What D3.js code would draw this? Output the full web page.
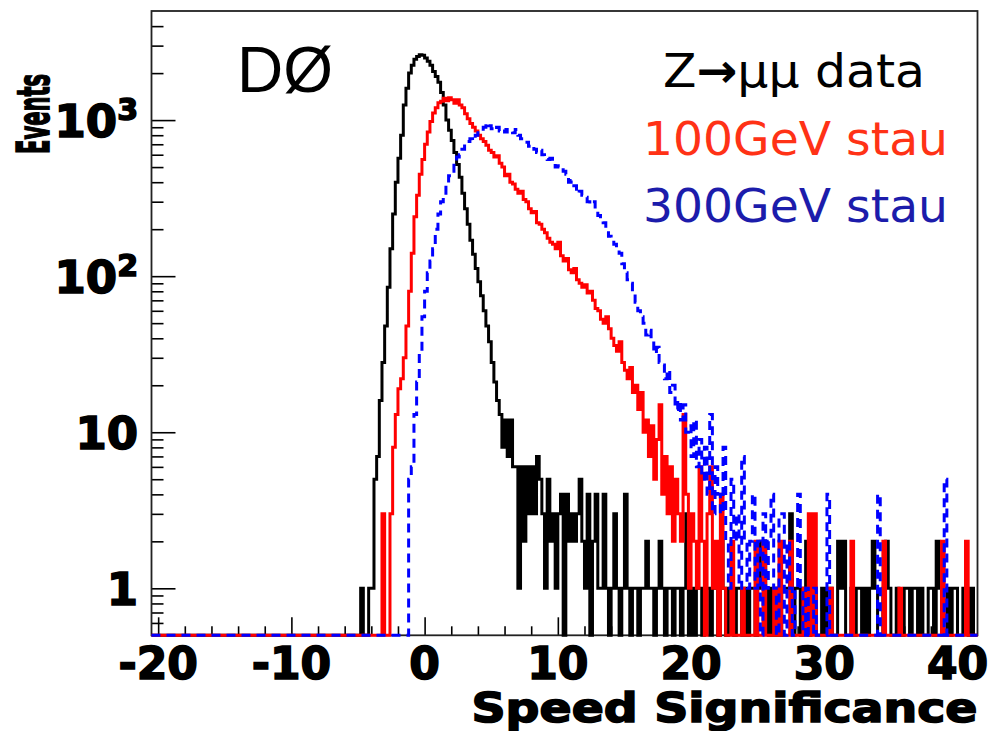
<!DOCTYPE html>
<html>
<head>
<meta charset="utf-8">
<script src="https://cdn.jsdelivr.net/npm/d3@7"></script>
<style>
  body { margin: 0; background: #fff; }
  svg { display: block; }
</style>
</head>
<body>
<svg id="chart" width="1005" height="731"></svg>
<script>
// histogram binning and axis ranges
const binWidth = 0.2
const xDomain = [-20.5, 41.5]
const yDomain = [0.5, 5000]
const xMajorTicks = [-20, -10, 0, 10, 20, 30, 40]
const yMajorTicks = [1, 10, 100, 1000]
const yTickLabels = [['1', ''], ['10', ''], ['10', '2'], ['10', '3']]

// Z->mumu data, bins of 0.2 starting at -4.8
const dataStart = -4.8
const dataCounts = [
  1, 0, 0, 1, 1, 5, 7, 16, 28, 48,
  85, 150, 250, 400, 570, 800, 1250, 1600, 2000, 2250,
  2450, 2560, 2620, 2600, 2500, 2380, 2250, 2050, 1900, 1750,
  1500, 1250, 1000, 860, 740, 620, 520, 430, 340, 270,
  215, 170, 138, 112, 92, 75, 60, 48, 38, 28,
  21, 16, 13, 8, 12, 7, 12, 6, 6, 1,
  6, 2, 6, 3, 6, 3, 7, 5, 3, 1,
  5, 2, 3, 1, 3, 4, 0, 4, 2, 3,
  2, 3, 5, 2, 1, 4, 0, 2, 4, 1,
  1, 4, 1, 0, 1, 3, 1, 0, 1, 4,
  1, 0, 1, 1, 0, 1, 1, 2, 1, 1,
  0, 1, 2, 1, 0, 1, 1, 0, 1, 1,
  0, 1, 3, 0, 1, 0, 1, 1, 0, 1,
  1, 0, 1, 1, 0, 2, 1, 0, 1, 1,
  0, 1, 1, 0, 1, 0, 1, 1, 0, 1,
  2, 2, 1, 0, 1, 0, 1, 0, 1, 1,
  1, 3, 0, 1, 1, 0, 1, 2, 0, 1,
  1, 0, 0, 1, 0, 1, 1, 0, 0, 2,
  1, 2, 0, 0, 1, 0, 1, 1, 0, 1,
  0, 1, 2, 1, 0, 0, 1, 2, 1, 0,
  0, 1, 0, 0, 1, 1, 0, 1, 1, 0,
  1, 0, 0, 1, 1, 0, 2, 1, 0, 0,
  1, 0, 1, 1, 0, 0, 1, 1, 0, 1
]

// 100 GeV stau, bins of 0.2 starting at -3.2
const stau100Start = -3.2
const stau100Counts = [
  3, 0, 0, 3, 8, 13, 19, 22, 30, 48,
  80, 140, 240, 330, 450, 560, 700, 840, 980, 1110,
  1200, 1290, 1320, 1380, 1330, 1390, 1350, 1280, 1350, 1250,
  1200, 1100, 1020, 950, 900, 850, 800, 760, 730, 690,
  640, 620, 580, 590, 530, 500, 440, 450, 400, 390,
  360, 340, 350, 310, 300, 270, 255, 260, 220, 215,
  200, 190, 175, 165, 160, 150, 165, 135, 125, 130,
  110, 105, 112, 95, 90, 85, 88, 78, 80, 70,
  62, 60, 53, 50, 55, 46, 40, 36, 33, 38,
  28, 25, 22, 26, 18, 20, 14, 18, 10, 12,
  7, 11, 5, 9, 15, 4, 7, 3, 6, 2,
  5, 3, 2, 13, 4, 1, 3, 2, 1, 6,
  2, 0, 3, 6, 1, 2, 0, 4, 1, 0,
  0, 2, 0, 0, 0, 1, 0, 0, 0, 0,
  2, 0, 0, 2, 0, 0, 0, 1, 0, 2,
  0, 0, 0, 2, 0, 0, 0, 0, 1, 0,
  3, 0, 3, 0, 0, 0, 0, 0, 1, 0,
  0, 0, 0, 0, 0, 0, 2, 0, 0, 0,
  0, 0, 0, 0, 0, 0, 0, 0, 2, 0,
  0, 0, 0, 0, 1, 0, 0, 0, 0, 0,
  0, 0, 0, 0, 0, 0, 0, 0, 0, 0,
  2, 0, 0, 0, 0, 0, 0, 0, 0, 2
]

// 300 GeV stau, bins of 0.2 starting at -1.2
const stau300Start = -1.2
const stau300Counts = [
  5, 6, 13, 21, 32, 55, 80, 105, 125, 150,
  200, 250, 300, 340, 380, 440, 470, 540, 580, 600,
  650, 700, 730, 760, 740, 800, 830, 850, 900, 960,
  920, 880, 860, 900, 850, 870, 840, 870, 860, 830,
  870, 800, 760, 720, 720, 680, 690, 650, 620, 640,
  600, 580, 560, 570, 540, 500, 510, 480, 470, 450,
  400, 410, 380, 340, 350, 330, 320, 300, 290, 300,
  260, 245, 225, 220, 200, 180, 175, 160, 150, 140,
  120, 105, 95, 90, 78, 68, 60, 55, 50, 42,
  45, 40, 32, 35, 28, 27, 22, 25, 18, 20,
  14, 16, 12, 15, 10, 11, 7, 12, 6, 9,
  5, 8, 4, 13, 3, 6, 4, 3, 8, 2,
  1, 5, 2, 3, 1, 7, 2, 1, 2, 4,
  1, 2, 0, 3, 1, 2, 4, 1, 0, 3,
  3, 0, 2, 1, 0, 1, 4, 1, 0, 1,
  0, 0, 1, 0, 0, 0, 0, 4, 0, 0,
  0, 0, 0, 0, 0, 0, 0, 0, 0, 0,
  0, 0, 0, 0, 0, 0, 4, 0, 0, 0,
  0, 0, 0, 0, 0, 0, 0, 0, 0, 0,
  0, 0, 0, 0, 0, 0, 0, 0, 0, 0,
  0, 5
]

const legendLabels = ['Z\u2192\u03bc\u03bc data', '100GeV stau', '300GeV stau']
const xTitle = 'Speed Significance'
const yTitle = 'Events'
const experiment = 'D\u00d8'

const frame = {left: 151.5, right: 977.5, top: 11, bottom: 635.3}
const heavyFont = '"DejaVu Sans", sans-serif'

const svg = d3.select('#chart')
const x = d3.scaleLinear().domain(xDomain).range([frame.left, frame.right])
const y = d3.scaleLog().domain(yDomain).range([frame.bottom, frame.top])

// minor ticks
const xMinorTicks = d3.range(-20, 42, 2).filter(v => !xMajorTicks.includes(v))
const yMinorTicks = []
;[0.1, 1, 10, 100, 1000].forEach(d => {
  d3.range(2, 10).forEach(m => {
    const v = m * d
    if (v > yDomain[0] && v < yDomain[1]) yMinorTicks.push(v)
  })
})

const axisG = svg.append('g')
const tickStyle = g => {
  g.select('.domain').remove()
  g.selectAll('line').attr('stroke', '#000').attr('stroke-width', 1.6)
}

axisG.append('g')
  .attr('transform', `translate(0,${frame.bottom})`)
  .call(d3.axisBottom(x).tickValues(xMinorTicks).tickSize(-9).tickFormat(''))
  .call(tickStyle)
axisG.append('g')
  .attr('transform', `translate(0,${frame.bottom})`)
  .call(d3.axisBottom(x).tickValues(xMajorTicks).tickSize(-18).tickFormat(''))
  .call(tickStyle)
axisG.append('g')
  .attr('transform', `translate(${frame.left},0)`)
  .call(d3.axisLeft(y).tickValues(yMinorTicks).tickSize(-12).tickFormat(''))
  .call(tickStyle)
axisG.append('g')
  .attr('transform', `translate(${frame.left},0)`)
  .call(d3.axisLeft(y).tickValues(yMajorTicks).tickSize(-24).tickFormat(''))
  .call(tickStyle)

axisG.append('rect')
  .attr('x', frame.left)
  .attr('y', frame.top)
  .attr('width', frame.right - frame.left)
  .attr('height', frame.bottom - frame.top)
  .attr('fill', 'none')
  .attr('stroke', '#222')
  .attr('stroke-width', 1.8)

// histograms
const histLine = d3.line()
  .x(d => x(d[0]))
  .y(d => (d[1] > yDomain[0] ? y(d[1]) : frame.bottom))
  .curve(d3.curveStepAfter)

function histPoints(start, counts) {
  const pts = [[xDomain[0], 0]]
  counts.forEach((c, i) => pts.push([start + i * binWidth, c]))
  pts.push([start + counts.length * binWidth, 0])
  pts.push([xDomain[1], 0])
  return pts
}

const series = [
  {start: dataStart, counts: dataCounts, color: '#000000', dash: null},
  {start: stau100Start, counts: stau100Counts, color: '#ff0000', dash: null},
  {start: stau300Start, counts: stau300Counts, color: '#0000ff', dash: '9,6'}
]

svg.append('g')
  .selectAll('path')
  .data(series)
  .join('path')
  .attr('d', d => histLine(histPoints(d.start, d.counts)))
  .attr('fill', 'none')
  .attr('stroke', d => d.color)
  .attr('stroke-width', 3)
  .attr('stroke-linejoin', 'miter')
  .attr('stroke-dasharray', d => d.dash)

// tick labels
svg.append('g')
  .selectAll('text')
  .data(xMajorTicks)
  .join('text')
  .attr('x', d => x(d))
  .attr('y', 679)
  .attr('text-anchor', 'middle')
  .attr('font-family', heavyFont)
  .attr('font-weight', 'bold')
  .attr('font-size', 44)
  .attr('stroke', '#000')
  .attr('stroke-width', 1.6)
  .text(d => String(d))

const yLab = svg.append('g')
  .selectAll('text')
  .data(yMajorTicks)
  .join('text')
  .attr('x', 138)
  .attr('y', d => y(d) + 17)
  .attr('text-anchor', 'end')
  .attr('font-family', heavyFont)
  .attr('font-weight', 'bold')
  .attr('font-size', 45)
  .attr('stroke', '#000')
  .attr('stroke-width', 1.6)
yLab.each(function (d, i) {
  const [base, sup] = yTickLabels[i]
  const t = d3.select(this)
  t.append('tspan').text(base)
  if (sup) {
    t.append('tspan').attr('font-size', 30).attr('dy', -17).text(sup)
  }
})

// axis titles
svg.append('text')
  .attr('x', frame.right)
  .attr('y', 722)
  .attr('text-anchor', 'end')
  .attr('font-family', heavyFont)
  .attr('font-weight', 'bold')
  .attr('font-size', 41)
  .attr('stroke', '#000')
  .attr('stroke-width', 1.6)
  .attr('textLength', 506)
  .attr('lengthAdjust', 'spacingAndGlyphs')
  .text(xTitle)

// y title: squeezed along its length like the original
const yTitleText = svg.append('text')
  .attr('text-anchor', 'end')
  .attr('font-family', heavyFont)
  .attr('font-weight', 'bold')
  .attr('font-size', 44)
  .attr('stroke', '#000')
  .attr('stroke-width', 1.6)
  .text(yTitle)
const yTitleLen = yTitleText.node().getComputedTextLength()
yTitleText.attr('transform', `translate(49,74) rotate(-90) scale(${80 / yTitleLen},1)`)

// experiment label and legend
svg.append('text')
  .attr('x', 237)
  .attr('y', 92)
  .attr('font-family', '"Liberation Sans", Arial, sans-serif')
  .attr('font-size', 64)
  .attr('fill', '#000')
  .text(experiment)

const legendColors = ['#000000', '#ff3216', '#1c1cab']
const legendPos = [[663, 87], [643, 155], [643, 222]]
const legendWidths = [262, 305, 305]
svg.append('g')
  .selectAll('text')
  .data(legendLabels)
  .join('text')
  .attr('x', (d, i) => legendPos[i][0])
  .attr('y', (d, i) => legendPos[i][1])
  .attr('font-family', '"DejaVu Sans", sans-serif')
  .attr('font-size', 47)
  .attr('fill', (d, i) => legendColors[i])
  .attr('textLength', (d, i) => legendWidths[i])
  .attr('lengthAdjust', 'spacingAndGlyphs')
  .each(function (d) {
    const t = d3.select(this)
    d.split(/(\u2192)/).filter(s => s).forEach(part => {
      t.append('tspan')
        .attr('font-weight', part === '\u2192' ? 'bold' : null)
        .text(part)
    })
  })
</script>
</body>
</html>
